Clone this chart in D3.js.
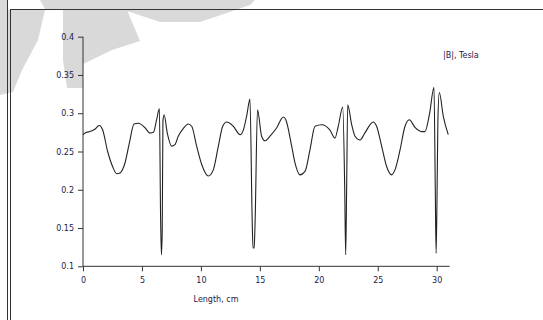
<!DOCTYPE html>
<html>
<head>
<meta charset="utf-8">
<script src="https://cdn.jsdelivr.net/npm/d3@7"></script>
<style>
  html, body { margin: 0; padding: 0; background: #fff; }
  svg { display: block; }
  text { font-family: "DejaVu Sans", sans-serif; font-size: 8px; fill: #222048; }
</style>
</head>
<body>
<svg id="chart" width="543" height="320"></svg>
<script>
// ---- data ----
const lengthCm = [
  0, 0.3, 0.6, 1.0, 1.38, 1.67, 2.09, 2.52, 2.86, 3.14, 3.56, 3.93, 4.33, 4.7, 5.26, 5.68, 5.97, 6.25, 6.48,
  6.58, 6.65, 6.72, 6.78, 6.88, 7.15, 7.52, 7.8, 8.08, 8.5, 8.93, 9.22, 9.64, 10.07, 10.63, 11.05, 11.48,
  11.85, 12.19, 12.75, 13.32, 13.6, 13.9, 14.16, 14.35, 14.42, 14.52, 14.6, 14.8, 15.15, 15.44, 15.86,
  16.43, 16.99, 17.2, 17.7, 17.98, 18.4, 18.83, 19.25, 19.68, 20.25, 20.95, 21.37, 21.65, 22.03, 22.2,
  22.28, 22.36, 22.45, 22.79, 23.07, 23.5, 23.9, 24.62, 24.9, 25.33, 25.76, 26.18, 26.46, 26.89, 27.31,
  27.68, 28.16, 28.73, 29.0, 29.4, 29.77, 29.88, 29.95, 30.02, 30.1, 30.22, 30.56, 30.98
];
const bTesla = [
  0.272, 0.275, 0.276, 0.279, 0.284, 0.278, 0.250, 0.230, 0.221, 0.222, 0.235, 0.261, 0.286, 0.287, 0.281, 0.274, 0.275, 0.292, 0.306,
  0.165, 0.115, 0.147, 0.290, 0.298, 0.274, 0.257, 0.259, 0.270, 0.280, 0.286, 0.283, 0.257, 0.233, 0.218, 0.226, 0.257,
  0.283, 0.2885, 0.283, 0.272, 0.278, 0.298, 0.3186, 0.160, 0.124, 0.124, 0.160, 0.3046, 0.270, 0.264, 0.270,
  0.281, 0.295, 0.2915, 0.257, 0.235, 0.2195, 0.224, 0.252, 0.283, 0.285, 0.278, 0.2675, 0.283, 0.308, 0.200,
  0.115, 0.200, 0.311, 0.285, 0.270, 0.265, 0.274, 0.2885, 0.283, 0.257, 0.230, 0.2195, 0.226, 0.252, 0.283,
  0.2915, 0.2815, 0.276, 0.276, 0.300, 0.334, 0.200, 0.117, 0.180, 0.290, 0.327, 0.296, 0.272
];
const xTicks = [0, 5, 10, 15, 20, 25, 30];
const yTicks = [0.1, 0.15, 0.2, 0.25, 0.3, 0.35, 0.4];
const xTitle = "Length, cm";
const seriesName = "|B|, Tesla";

// ---- layout ----
const svg = d3.select("#chart");
const x = d3.scaleLinear().domain([0, 30]).range([83, 436.7]);
const y = d3.scaleLinear().domain([0.1, 0.4]).range([266.3, 36.7]);

// background watermark shapes
const wm = svg.append("g").attr("fill", "#d9d9d9");
wm.append("path").attr("d", "M40,0 L255,0 L250,5 L215,17 L200,22 L160,22 L130,12 L120,9 L45,9 Z");
wm.append("path").attr("d", "M63,10 L127,10 L140,41 L112,50 L83,64 L83,88 L67,88 L63,60 Z");
wm.append("path").attr("d", "M12,10 L45,10 L38,40 L22,70 L13,92 L0,95 L0,0 L7,0 L7,10 Z");

// frame lines
svg.append("line").attr("x1", 7.5).attr("x2", 7.5).attr("y1", 0).attr("y2", 320).attr("stroke", "#333");
svg.append("line").attr("x1", 10.5).attr("x2", 10.5).attr("y1", 9.5).attr("y2", 320).attr("stroke", "#333");
svg.append("line").attr("x1", 10).attr("x2", 543).attr("y1", 9.5).attr("y2", 9.5).attr("stroke", "#333");

// axes
const xAxis = svg.append("g").attr("transform", "translate(0,266.3)")
  .call(d3.axisBottom(x).tickValues(xTicks).tickSize(5).tickPadding(6).tickFormat(d3.format("d")));
xAxis.select(".domain").attr("d", `M83,0H${x(31.1)}`);
const yAxis = svg.append("g").attr("transform", "translate(83,0)")
  .call(d3.axisLeft(y).tickValues(yTicks).tickSize(5).tickPadding(4).tickFormat(d => String(d)));
yAxis.select(".domain").attr("d", `M0,${y(0.4)}V${y(0.1)}`);
svg.selectAll(".tick line, .domain").attr("stroke", "#333");
svg.selectAll(".tick text").attr("font-family", "DejaVu Sans, sans-serif").attr("font-size", 8).attr("fill", "#222048");

// axis title & legend
svg.append("text").attr("x", 216).attr("y", 302).attr("text-anchor", "middle").text(xTitle);
svg.append("text").attr("x", 443).attr("y", 58).text(seriesName);

// series line
const pts = lengthCm.map((d, i) => [d, bTesla[i]]);
svg.append("path").datum(pts)
  .attr("fill", "none").attr("stroke", "#222").attr("stroke-width", 1.1)
  .attr("d", d3.line().x(d => x(d[0])).y(d => y(d[1])).curve(d3.curveMonotoneX));
</script>
</body>
</html>
